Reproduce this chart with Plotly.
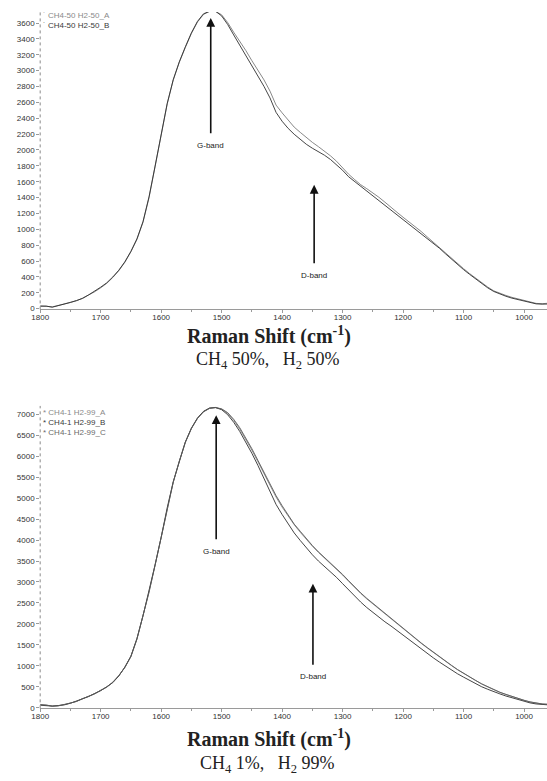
import plotly.graph_objects as go

W, H = 547, 781

wavenumber = [1800, 1790, 1780, 1770, 1760, 1750, 1740, 1730, 1720, 1710,
              1700, 1690, 1680, 1670, 1660, 1650, 1640, 1630, 1620, 1610,
              1600, 1590, 1580, 1570, 1560, 1550, 1540, 1530, 1520, 1510,
              1500, 1490, 1480, 1470, 1460, 1450, 1440, 1430, 1420, 1410,
              1400, 1390, 1380, 1370, 1360, 1350, 1340, 1330, 1320, 1310,
              1300, 1290, 1280, 1270, 1260, 1250, 1240, 1230, 1220, 1210,
              1200, 1190, 1180, 1170, 1160, 1150, 1140, 1130, 1120, 1110,
              1100, 1090, 1080, 1070, 1060, 1050, 1040, 1030, 1020, 1010,
              1000, 990, 980, 970, 960]

# CH4 50% / H2 50%
top_A = [35, 28, 22, 40, 58, 72, 98, 132, 168, 212,
         262, 318, 392, 478, 584, 716, 872, 1088, 1398, 1786,
         2196, 2578, 2882, 3104, 3292, 3468, 3612, 3708, 3748, 3748,
         3704, 3606, 3484, 3372, 3254, 3126, 3004, 2884, 2742, 2566,
         2468, 2384, 2288, 2222, 2154, 2096, 2042, 1986, 1926, 1858,
         1772, 1694, 1626, 1562, 1512, 1462, 1404, 1342, 1284, 1214,
         1152, 1094, 1032, 972, 904, 836, 774, 704, 644, 574,
         504, 442, 384, 324, 272, 224, 192, 166, 142, 122,
         98, 78, 66, 62, 68]
top_B = [30, 32, 18, 36, 62, 78, 102, 128, 172, 218,
         270, 325, 398, 484, 590, 722, 880, 1096, 1410, 1796,
         2208, 2586, 2886, 3110, 3300, 3476, 3620, 3716, 3748, 3748,
         3690, 3582, 3450, 3322, 3192, 3062, 2924, 2802, 2656, 2474,
         2362, 2272, 2198, 2132, 2072, 2022, 1982, 1934, 1880, 1812,
         1744, 1662, 1602, 1542, 1482, 1432, 1372, 1312, 1252, 1192,
         1132, 1072, 1012, 952, 884, 822, 762, 692, 622, 562,
         492, 432, 372, 312, 262, 216, 182, 156, 132, 112,
         92, 72, 60, 56, 58]

# CH4 1% / H2 99%
bot_A = [80, 58, 42, 48, 72, 112, 152, 212, 272, 334,
         412, 494, 604, 762, 964, 1224, 1642, 2184, 2762, 3404,
         4052, 4762, 5384, 5884, 6334, 6664, 6904, 7064, 7144, 7164,
         7124, 7024, 6856, 6646, 6408, 6146, 5868, 5588, 5306, 5026,
         4786, 4566, 4366, 4186, 4016, 3856, 3706, 3576, 3446, 3306,
         3166, 3016, 2866, 2726, 2596, 2476, 2366, 2256, 2136, 2016,
         1896, 1776, 1656, 1536, 1426, 1316, 1216, 1106, 1006, 906,
         816, 726, 646, 566, 496, 426, 366, 316, 266, 216,
         176, 136, 108, 88, 80]
bot_B = [60, 50, 38, 52, 68, 106, 158, 206, 266, 340,
         406, 500, 598, 756, 970, 1230, 1650, 2190, 2770, 3410,
         4060, 4770, 5390, 5890, 6340, 6670, 6910, 7070, 7150, 7160,
         7110, 6990, 6810, 6590, 6340, 6070, 5780, 5480, 5160, 4850,
         4610, 4380, 4170, 3990, 3810, 3650, 3500, 3370, 3250, 3110,
         2960, 2810, 2660, 2520, 2390, 2270, 2160, 2050, 1950, 1840,
         1730, 1620, 1500, 1390, 1290, 1190, 1090, 990, 900, 810,
         730, 650, 570, 500, 440, 380, 330, 280, 235, 190,
         150, 115, 90, 75, 68]
bot_C = [70, 64, 36, 44, 76, 116, 148, 216, 278, 328,
         418, 488, 610, 768, 958, 1218, 1636, 2178, 2756, 3398,
         4046, 4756, 5378, 5878, 6328, 6658, 6898, 7058, 7140, 7160,
         7130, 7040, 6880, 6680, 6440, 6180, 5900, 5620, 5340, 5060,
         4820, 4590, 4380, 4210, 4030, 3870, 3720, 3590, 3460, 3320,
         3180, 3030, 2880, 2740, 2610, 2490, 2380, 2260, 2140, 2020,
         1900, 1780, 1660, 1545, 1435, 1325, 1220, 1115, 1012, 912,
         820, 730, 650, 570, 500, 430, 370, 318, 268, 220,
         178, 140, 110, 90, 82]

top_names = ["CH4-50 H2-50_A", "CH4-50 H2-50_B"]
bot_names = ["CH4-1 H2-99_A", "CH4-1 H2-99_B", "CH4-1 H2-99_C"]
top_colors = ["#7a7a7a", "#303030"]
bot_colors = ["#858585", "#303030", "#5a5a5a"]

top_yticks = list(range(0, 3601, 200))
bot_yticks = list(range(0, 7001, 500))
x_ticks = [1800, 1700, 1600, 1500, 1400, 1300, 1200, 1100, 1000]

fig = go.Figure()
for name, ys, col in zip(top_names, [top_A, top_B], top_colors):
    fig.add_trace(go.Scatter(x=wavenumber, y=ys, name=name, mode="lines",
                             line=dict(color=col, width=0.9),
                             xaxis="x", yaxis="y", showlegend=False))
for name, ys, col in zip(bot_names, [bot_A, bot_B, bot_C], bot_colors):
    fig.add_trace(go.Scatter(x=wavenumber, y=ys, name=name, mode="lines",
                             line=dict(color=col, width=0.9),
                             xaxis="x2", yaxis="y2", showlegend=False))


def py(px):
    return 1 - px / H


tick_font = dict(family="Liberation Sans, Arial, sans-serif", size=8, color="#333333")
xdom = [31.7 / W, 1.0]

common_x = dict(autorange=False, showgrid=False, zeroline=False, showline=True,
                linecolor="#9a9a9a", linewidth=1, ticks="outside", ticklen=3,
                tickcolor="#9a9a9a", tickvals=x_ticks, tickfont=tick_font,
                ticklabelstandoff=-3,
                minor=dict(dtick=50, ticks="outside", ticklen=2, tickcolor="#9a9a9a"),
                domain=xdom)
common_y = dict(autorange=False, showgrid=False, zeroline=False, showline=False,
                ticks="outside", ticklen=3, tickcolor="#9a9a9a", tickfont=tick_font)

fig.update_layout(
    width=W, height=H,
    margin=dict(l=0, r=0, t=0, b=0),
    paper_bgcolor="white", plot_bgcolor="white",
    xaxis=dict(range=[1800, 962], anchor="y", **common_x),
    yaxis=dict(range=[-10, 3740], anchor="x", tickvals=top_yticks,
               domain=[py(311), py(12)], **common_y),
    xaxis2=dict(range=[1800, 962], anchor="y2", **common_x),
    yaxis2=dict(range=[-15, 7200], anchor="x2", tickvals=bot_yticks,
                domain=[py(712), py(408)], **common_y),
)

# dotted y-axis lines
for xr, yr in [("x", "y"), ("x2", "y2")]:
    fig.add_shape(type="line", xref=xr + " domain", yref=yr + " domain",
                  x0=0, x1=0, y0=0, y1=1,
                  line=dict(color="#8a8a8a", width=1, dash="dot"))

ann = []
# legends (as text in the upper-left corner)
for i, (name, col) in enumerate(zip(top_names, ["#8a8a8a", "#3a3a3a"])):
    ann.append(dict(xref="paper", yref="paper", x=33 / W, y=py(15.5 + 10 * i),
                    xanchor="left", yanchor="middle", showarrow=False,
                    text="\u02d9 " + name,
                    font=dict(family="Liberation Sans, Arial, sans-serif", size=8, color=col)))
for i, (name, col) in enumerate(zip(bot_names, ["#8a8a8a", "#3a3a3a", "#6a6a6a"])):
    ann.append(dict(xref="paper", yref="paper", x=33 / W, y=py(415 + 10 * i),
                    xanchor="left", yanchor="middle", showarrow=False,
                    text="* " + name,
                    font=dict(family="Liberation Sans, Arial, sans-serif", size=8, color=col)))

band_font = dict(family="Liberation Sans, Arial, sans-serif", size=8, color="#222222")
# arrows with band labels at the tail: (xref, yref, x, y_tip, y_label, text)
arrows = [("x", "y", 1518, 3665, 2060, "G-band"),
          ("x", "y", 1347, 1560, 420, "D-band"),
          ("x2", "y2", 1509, 6980, 3730, "G-band"),
          ("x2", "y2", 1349, 2960, 740, "D-band")]
for xr, yr, xv, ytip, ylab, txt in arrows:
    ann.append(dict(xref=xr, yref=yr, axref=xr, ayref=yr, x=xv, y=ytip, ax=xv, ay=ylab,
                    text=txt, showarrow=True, arrowhead=2, arrowsize=1.1,
                    arrowwidth=1.6, arrowcolor="#111111", startstandoff=6,
                    font=band_font))

title_font = dict(family="Liberation Serif, Times New Roman, serif", size=20, color="#222222")
sub_font = dict(family="Liberation Serif, Times New Roman, serif", size=18, color="#222222")
for ty, sy, sub in [(337, 362, "CH<sub>4</sub> 50%,   H<sub>2</sub> 50%"),
                    (742, 768, "CH<sub>4</sub> 1%,   H<sub>2</sub> 99%")]:
    ann.append(dict(xref="paper", yref="paper", x=264 / W, y=py(ty), xanchor="center",
                    yanchor="middle", showarrow=False,
                    text="<b>Raman Shift (cm<sup>-1</sup>)</b>", font=title_font))
    ann.append(dict(xref="paper", yref="paper", x=263 / W, y=py(sy), xanchor="center",
                    yanchor="middle", showarrow=False, text=sub, font=sub_font))

fig.update_layout(annotations=ann)
fig.write_html("out.html")
